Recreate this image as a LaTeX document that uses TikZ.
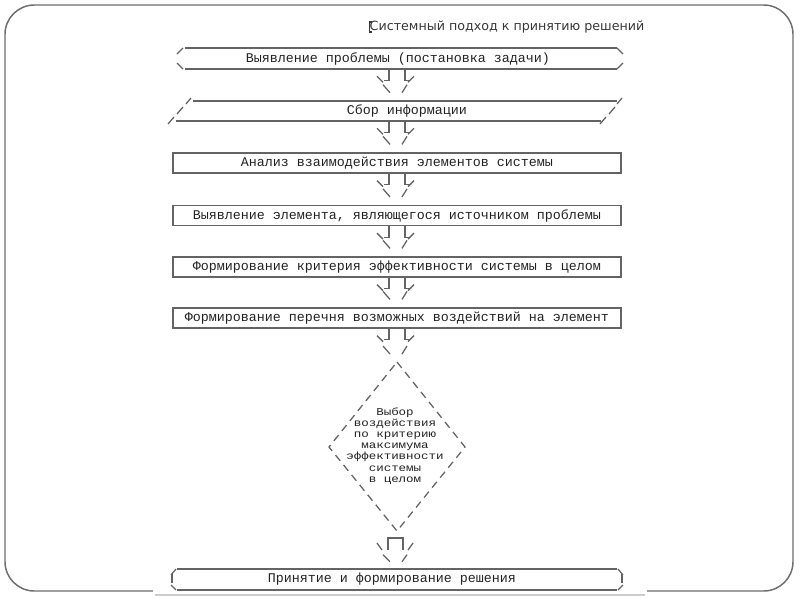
\documentclass[tikz,border=0pt]{standalone}
\usepackage{fontspec}
\setmonofont{Liberation Mono}
\newfontfamily\titlefont{DejaVu Sans}
\newfontfamily\dmfont[FakeStretch=1.2]{Liberation Mono}
\usetikzlibrary{calc}
\definecolor{lncol}{RGB}{100,100,100}
\definecolor{txtcol}{RGB}{35,35,35}
\definecolor{frmcol}{RGB}{110,110,110}
\definecolor{titlecol}{RGB}{55,55,55}
\tikzset{
  gline/.style={draw=lncol, line width=0.95pt},
  dline/.style={draw=lncol, line width=0.95pt, dash pattern=on 5.6pt off 4pt},
  boxtxt/.style={font=\ttfamily\fontsize{10}{12}\selectfont, text=txtcol, inner sep=0pt, minimum height=15pt},
  rectbox/.style={boxtxt, draw=lncol, line width=0.95pt, minimum width=336pt},
  dmtxt/.style={font=\dmfont\fontsize{7.8}{8.4}\selectfont, text=txtcol, align=center, inner sep=0pt},
}
\newcommand{\pgarr}[2]{%
  \draw[gline] (axl |- #1) -- ++(0,11) -- ++(-5,0);
  \draw[gline] (axr |- #1) -- ++(0,11) -- ++(5,0);
  \draw[gline] (axl |- #1) ++(-12,7) -- ++(6,6);
  \draw[gline] (axr |- #1) ++(9,7) -- ++(-6,6);
  \draw[gline] (axl |- #2) ++(-6,-16) -- ++(7,8);
  \draw[gline] (axr |- #2) ++(2,-16) -- ++(-5,8);
}
\begin{document}
\begin{tikzpicture}[x=0.75pt,y=-0.75pt]
\useasboundingbox (0,0) rectangle (800,600);
\fill[white] (0,0) rectangle (800,600);
% outer frame
\draw[draw=frmcol, line width=1.1pt, rounded corners=22pt] (5,5) rectangle (793,591);
\fill[white] (153,584) rectangle (647,599);
\draw[draw=black!20, line width=1.5pt] (155,595) -- (645,595);
% title
\node[font=\titlefont\fontsize{9.5}{11}\selectfont, text=titlecol, inner sep=0pt] (title) at (507,27) {Системный подход к принятию решений};
\draw[draw=titlecol, line width=1.1pt] (372,22) -- (369.5,22) -- (369.5,32) -- (372,32);
% axis coordinates for the arrows
\coordinate (axl) at (389,0);
\coordinate (axr) at (405,0);
% box 1: hexagon
\node[boxtxt, minimum height=15.75pt] (b1) at (398,58.5) {Выявление проблемы (постановка задачи)};
\draw[gline] (185,48) -- (617,48);
\draw[gline] (185,69) -- (617,69);
\draw[gline] (177,54) -- (183,48);
\draw[gline] (177,63) -- (183,69);
\draw[gline] (617,48) -- (623,54);
\draw[gline] (623,63) -- (617,69);
% box 2: parallelogram
\node[boxtxt] (b2) at (407,111) {Сбор информации};
\draw[gline] (193,101) -- (617,101);
\draw[gline] (176,121) -- (601,121);
\draw[gline] (186,104) -- (191,98);
\draw[gline] (617,104) -- (622,98);
\draw[gline] (177,114) -- (183,107);
\draw[gline] (609,114) -- (615,107);
\draw[gline] (168,124) -- (174,117);
\draw[gline] (600,124) -- (606,117);
% rectangles
\node[rectbox] (b3) at (397,163) {Анализ взаимодействия элементов системы};
\node[rectbox] (b4) at (397,215.5) {Выявление элемента, являющегося источником проблемы};
\node[rectbox] (b5) at (397,267) {Формирование критерия эффективности системы в целом};
\node[rectbox] (b6) at (397,318) {Формирование перечня возможных воздействий на элемент};
% diamond
\node[dmtxt] (dm) at (395,446) {Выбор\\воздействия\\по критерию\\максимума\\эффективности\\системы\\в целом};
\coordinate (dmtop) at (397,362);
\coordinate (dmright) at (465,447);
\coordinate (dmbot) at (397,531);
\coordinate (dmleft) at (329,447);
\draw[dline] (dmtop) -- (dmright) -- (dmbot) -- (dmleft) -- cycle;
% final box
\node[boxtxt, minimum height=15.75pt] (b7) at (392,579.5) {Принятие и формирование решения};
\draw[gline] (177,569) -- (617,569);
\draw[gline] (177,590) -- (617,590);
\draw[gline] (171,575) -- (176,569);
\draw[gline] (172,574) -- (172,583);
\draw[gline] (171,585) -- (176,590);
\draw[gline] (618,569) -- (623,575);
\draw[gline] (622,574) -- (622,583);
\draw[gline] (623,585) -- (618,590);
% arrows
\pgarr{b1.south}{b2.north}
\pgarr{b2.south}{b3.north}
\pgarr{b3.south}{b4.north}
\pgarr{b4.south}{b5.north}
\pgarr{b5.south}{b6.north}
\pgarr{b6.south}{dmtop}
% final arrow
\draw[gline] (axl |- dmbot) ++(-1,19) -- ++(0,-12) -- ++(15,0) -- ++(0,12);
\draw[gline] (axl |- dmbot) ++(-12,12) -- ++(5,7);
\draw[gline] (axr |- dmbot) ++(8,12) -- ++(-5,7);
\draw[gline] (axl |- b7.north) ++(-6,-14) -- ++(7,7);
\draw[gline] (axr |- b7.north) ++(2,-14) -- ++(-5,7);
\end{tikzpicture}
\end{document}
